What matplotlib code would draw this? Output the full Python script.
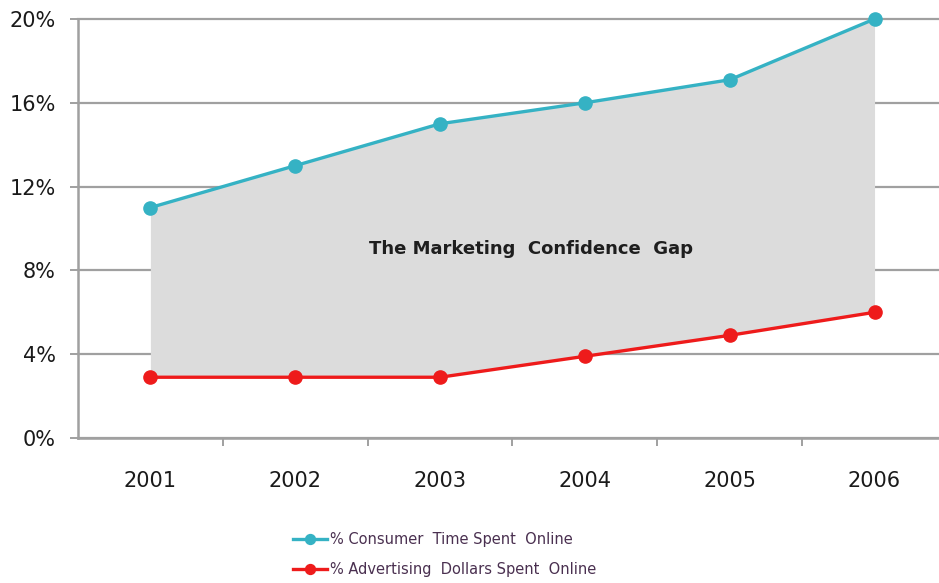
import matplotlib
matplotlib.use('Agg')
import matplotlib.pyplot as plt
from matplotlib.ticker import FuncFormatter, MultipleLocator
import numpy as np

years = ['2001', '2002', '2003', '2004', '2005', '2006']
consumer_time = [11.0, 13.0, 15.0, 16.0, 17.1, 20.0]
ad_dollars = [2.9, 2.9, 2.9, 3.9, 4.9, 6.0]

cyan = '#35b2c4'
red = '#ee1b1b'
grid_grey = '#a0a0a0'

fig = plt.figure(figsize=(9.39, 5.83), dpi=100)
ax = fig.add_axes([78 / 939, 1 - 438 / 583, 1 - 78 / 939, (438 - 19) / 583])

x = np.arange(len(years))

# gap between the two series
ax.fill_between(x, ad_dollars, consumer_time, color='#dcdcdc', lw=0, zorder=1)

ax.plot(x, consumer_time, color=cyan, lw=2.4, marker='o', ms=9.5,
        label='% Consumer  Time Spent  Online', zorder=3, clip_on=False)
ax.plot(x, ad_dollars, color=red, lw=2.4, marker='o', ms=9.5,
        label='% Advertising  Dollars Spent  Online', zorder=3, clip_on=False)

ax.text(2.63, 9.0, 'The Marketing  Confidence  Gap', ha='center', va='center',
        fontsize=13, fontweight='semibold', color='#1e1e1e', zorder=4)

ax.set_ylim(0, 20)
ax.set_xlim(-0.5, 5.445)
ax.yaxis.set_major_locator(MultipleLocator(4))
ax.yaxis.set_major_formatter(FuncFormatter(lambda v, p: f'{v:.0f}%'))
ax.grid(axis='y', color=grid_grey, lw=1.6, zorder=0)
for gl in ax.get_ygridlines():
    gl.set_clip_on(False)
ax.set_axisbelow(True)

ax.set_xticks(x)
ax.set_xticklabels(years)
ax.set_xticks(np.arange(0.5, 5.5, 1), minor=True)
ax.tick_params(axis='x', which='major', length=0, pad=24, labelsize=15,
               labelcolor='#1a1a1a')
ax.tick_params(axis='x', which='minor', length=6, width=1.4, color=grid_grey,
               direction='out')
ax.tick_params(axis='y', length=6, width=1.4, color=grid_grey, pad=10,
               labelsize=15, labelcolor='#1a1a1a')

for side in ['top', 'right']:
    ax.spines[side].set_visible(False)
for side in ['left', 'bottom']:
    ax.spines[side].set_color(grid_grey)
    ax.spines[side].set_linewidth(1.8)

leg = fig.legend(loc='upper left', bbox_to_anchor=(280 / 939, 1 - 519 / 583),
                 frameon=False, fontsize=10.5, handlelength=2.3,
                 handletextpad=0.25, labelspacing=1.0, markerscale=0.75)
for t in leg.get_texts():
    t.set_color('#4a3050')

fig.savefig('out.png', dpi=100)
